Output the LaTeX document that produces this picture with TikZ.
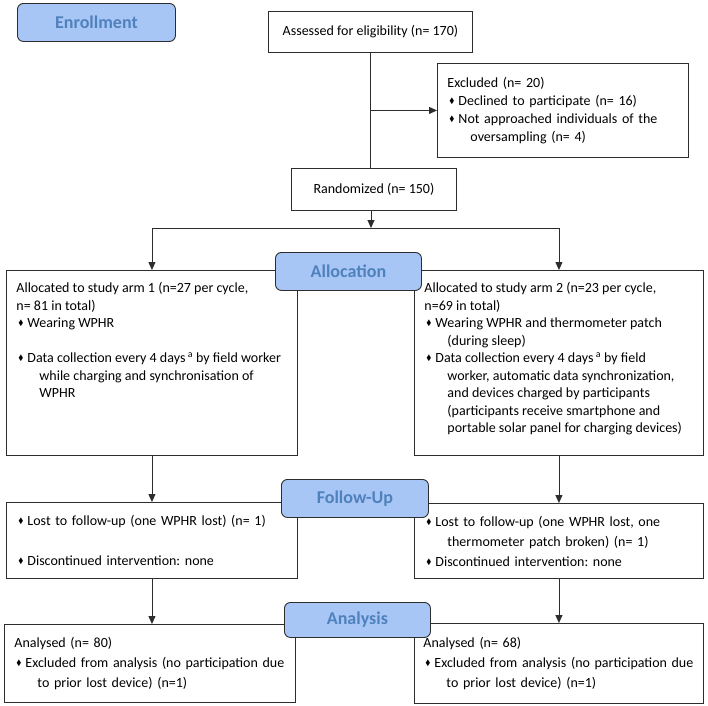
\documentclass[tikz,border=0pt]{standalone}
\usepackage{amssymb}
\usepackage{graphicx}
\usepackage{fontspec}
\setmainfont{Carlito}
\usetikzlibrary{positioning,arrows.meta}
\frenchspacing

\definecolor{stagefill}{RGB}{168,198,245}
\definecolor{stagetext}{RGB}{79,129,189}
\definecolor{edge}{RGB}{45,45,45}

\newcommand{\bul}{\makebox[11pt][l]{\hspace*{2pt}\raisebox{1.8pt}{\scalebox{0.55}{$\blacklozenge$}}}}
\newcommand{\cont}{\hspace*{23pt}}
\newcommand{\topbox}[3]{\parbox[t][#1][t]{#2}{\raggedright #3}}

\begin{document}
\begin{tikzpicture}[x=1pt,y=1pt,
  font=\fontsize{14}{17.5}\selectfont,
  box/.style={draw=edge,line width=0.9pt,anchor=north west,inner xsep=10pt,inner ysep=0pt,align=left},
  stage/.style={draw=edge,line width=0.9pt,fill=stagefill,rounded corners=6pt,anchor=north west,
    font=\fontsize{18}{20}\selectfont\bfseries,text=stagetext,inner sep=0pt},
  arr/.style={draw=edge,line width=0.9pt,-{Triangle[length=8pt,width=7pt]}},
  plain/.style={draw=edge,line width=0.9pt}]

\useasboundingbox (0,0) rectangle (708,-705);

% enrollment
\node[box,minimum width=204pt,minimum height=41pt,align=center] (assess) at (268,-11)
  {Assessed for eligibility (n= 170)};
\node[box,text width=231pt,minimum height=94pt,font=\fontsize{14}{18}\selectfont] (excl) at (437,-63)
  {Excluded (n= 20)\\
   \bul Declined to participate (n= 16)\\
   \bul Not approached individuals of the\\
   \cont oversampling (n= 4)};
\node[box,minimum width=165pt,minimum height=42pt,align=center] (rand) at (291,-168)
  {Randomized (n= 150)};

% allocation
\node[box,inner ysep=12pt] (arm1) at (6,-270)
  {\topbox{161pt}{271pt}{Allocated to study arm 1 (n=27 per cycle,\\
   n= 81 in total)\\
   \bul Wearing WPHR\\
   \mbox{}\\
   \bul Data collection every 4 days\,\textsuperscript{a} by field worker\\
   \cont while charging and synchronisation of\\
   \cont WPHR}};
\node[box,inner ysep=12pt] (arm2) at (414,-270)
  {\topbox{161pt}{269pt}{Allocated to study arm 2 (n=23 per cycle,\\
   n=69 in total)\\
   \bul Wearing WPHR and thermometer patch\\
   \cont (during sleep)\\
   \bul Data collection every 4 days\,\textsuperscript{a} by field\\
   \cont worker, automatic data synchronization,\\
   \cont and devices charged by participants\\
   \cont (participants receive smartphone and\\
   \cont portable solar panel for charging devices)}};

% follow-up
\node[box,text width=271pt,minimum height=76pt,font=\fontsize{14}{20}\selectfont] (fu1) at (6,-502)
  {\bul Lost to follow-up (one WPHR lost) (n= 1)\\[20pt]
   \bul Discontinued intervention: none};
\node[box,text width=269pt,minimum height=75pt,font=\fontsize{14}{20}\selectfont] (fu2) at (414,-503)
  {\bul Lost to follow-up (one WPHR lost, one\\
   \cont thermometer patch broken) (n= 1)\\
   \bul Discontinued intervention: none};

% analysis
\node[box,text width=271pt,minimum height=78pt,font=\fontsize{14}{20}\selectfont] (ana1) at (4,-624)
  {Analysed (n= 80)\\
   \bul Excluded from analysis (no participation due\\
   \cont to prior lost device) (n=1)};
\node[box,inner xsep=9pt,text width=271pt,minimum height=80pt,font=\fontsize{14}{20}\selectfont] (ana2) at (414,-623)
  {Analysed (n= 68)\\
   \bul Excluded from analysis (no participation due\\
   \cont to prior lost device) (n=1)};

% connectors
\coordinate (split) at (371,-228);
\draw[plain] (assess.south) -- (assess.south |- rand.north);
\draw[arr] (assess.south |- excl.west) -- (excl.west);
\draw[arr] (rand.south -| split) -- (split);
\draw[plain] (arm1.north |- split) -- (arm2.north |- split);
\draw[arr] (arm1.north |- split) -- (arm1.north);
\draw[arr] (arm2.north |- split) -- (arm2.north);
\draw[arr] (arm1.south) -- (arm1.south |- fu1.north);
\draw[arr] (arm2.south) -- (arm2.south |- fu2.north);
\draw[arr] (fu1.south) -- (fu1.south |- ana1.north);
\draw[arr] (fu2.south) -- (fu2.south |- ana2.north);

% stage labels
\node[stage,minimum width=158pt,minimum height=38pt] (enroll) at (17,-3) {Enrollment};
\node[stage,minimum width=146pt,minimum height=38pt] (alloc) at (275,-252) {Allocation};
\node[stage,minimum width=147pt,minimum height=38pt] (follow) at (281,-479) {Follow-Up};
\node[stage,minimum width=146pt,minimum height=35pt] (analysis) at (284,-602) {Analysis};
\end{tikzpicture}
\end{document}
